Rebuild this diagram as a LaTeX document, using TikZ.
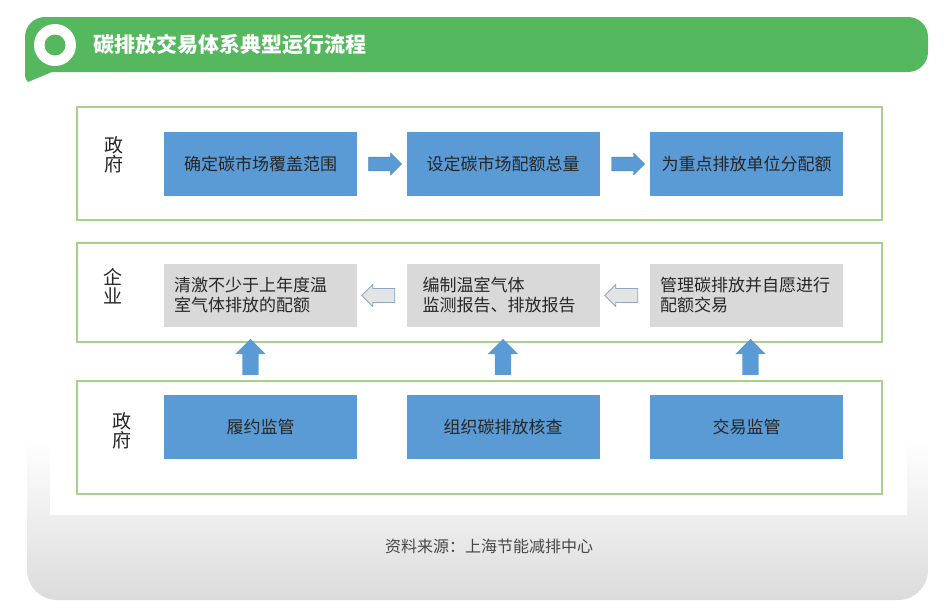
\documentclass[tikz,border=0pt]{standalone}
\usepackage{fontspec}
\setmainfont{Noto Sans CJK SC}
\usepackage{xcolor}
\usepackage{tikz}
\usetikzlibrary{shapes,shapes.arrows,calc,positioning}

\definecolor{bannergreen}{HTML}{55B85E}
\definecolor{framegreen}{HTML}{A9D18E}
\definecolor{stepblue}{HTML}{5B9BD5}
\definecolor{stepgray}{HTML}{D9D9D9}
\definecolor{arrowedge}{HTML}{8EA6BE}
\definecolor{textdark}{HTML}{262626}

\begin{document}
\begin{tikzpicture}[
	x=1pt, y=-1pt,
	every node/.style = {inner sep=0pt, outer sep=0pt},
	rowframe/.style = {draw=framegreen, line width=1.2pt, fill=white},
	bluebox/.style = {fill=stepblue, minimum width=193pt, minimum height=64pt,
	text=textdark, font=\fontsize{17}{20}\selectfont},
	graybox/.style = {fill=stepgray, minimum width=193pt, minimum height=63pt,
	text=textdark, font=\fontsize{17}{20}\selectfont, align=left,
	text width=173pt},
	rowlabel/.style = {align=center, text=textdark,
	font=\fontsize{19}{19}\selectfont},
	rightarrow/.style = {single arrow, fill=stepblue, draw=stepblue!85!black,
	line width=0.4pt, inner sep=6.5pt, minimum height=33pt, minimum width=22pt,
	single arrow head extend=4pt, single arrow head indent=0pt},
	leftarrow/.style = {single arrow, fill=stepgray!70, draw=arrowedge,
	line width=0.8pt, shape border rotate=180, inner sep=6.5pt,
	minimum height=33pt, minimum width=22pt, single arrow head extend=4pt,
	single arrow head indent=0pt},
	uparrow/.style = {single arrow, fill=stepblue, shape border rotate=90,
	inner sep=8pt, minimum height=36pt, minimum width=30pt,
	single arrow head extend=7pt, single arrow head indent=0pt}
]
\useasboundingbox (0,0) rectangle (950,613);

% background panel
\shade[top color=white, bottom color=gray!28]
	(27,440) {[rounded corners=30] -- (27,600) -- (928,600)} -- (928,440) -- cycle;
\fill[white] (50,430) rectangle (907,515);
\node[text=textdark!85, font=\fontsize{16}{18}\selectfont] (source) at (489,546)
	{资料来源：上海节能减排中心};

% title banner
\fill[bannergreen] (28,82) {[rounded corners=4] -- (25,80)}
	{[rounded corners=20] -- (25,17) -- (928,17) -- (928,72)} -- (52,72) -- cycle;
\fill[white] (55,45) circle (21);
\fill[bannergreen] (55,45) circle (10.5);
\node[anchor=west, text=white, font=\fontsize{21}{22}\selectfont\bfseries]
	(title) at (93,45) {碳排放交易体系典型运行流程};

% row frames
\draw[rowframe] (77,107) rectangle (882,220);
\draw[rowframe] (77,243) rectangle (882,342);
\draw[rowframe] (77,381) rectangle (882,494);

\node[rowlabel] (gov1) at (114,155) {政\\府};
\node[rowlabel] (firm) at (113,286) {企\\业};
\node[rowlabel] (gov2) at (122,431) {政\\府};

% government: setting up
\node[bluebox] (scope) at (260.5,164) {确定碳市场覆盖范围};
\node[bluebox] (cap) at (503,164) {设定碳市场配额总量};
\node[bluebox] (alloc) at (746.5,164) {为重点排放单位分配额};

\node[rightarrow] (a1) at ($(scope.east)!0.5!(cap.west)$) {};
\node[rightarrow] (a2) at ($(cap.east)!0.5!(alloc.west)$) {};

% enterprise
\node[graybox] (settle) at (260.5,295.5) {清激不少于上年度温\\室气体排放的配额};
\node[graybox] (report) at (503,295.5) {\hspace*{6pt}编制温室气体\\\hspace*{6pt}监测报告、排放报告};
\node[graybox] (trade) at (746.5,295.5) {管理碳排放并自愿进行\\配额交易};

\node[leftarrow] (b1) at ($(report.west)!0.5!(settle.east)$) {};
\node[leftarrow] (b2) at ($(trade.west)!0.5!(report.east)$) {};

% government: supervision
\node[bluebox] (comply) at (260.5,427) {履约监管};
\node[bluebox] (verify) at (503,427) {组织碳排放核查};
\node[bluebox] (market) at (746.5,427) {交易监管};

\node[uparrow] (c1) at ($(comply.north)!0.5!(settle.south) + (-10,0)$) {};
\node[uparrow] (c2) at ($(verify.north)!0.5!(report.south)$) {};
\node[uparrow] (c3) at ($(market.north)!0.5!(trade.south) + (4,0)$) {};
\end{tikzpicture}
\end{document}
